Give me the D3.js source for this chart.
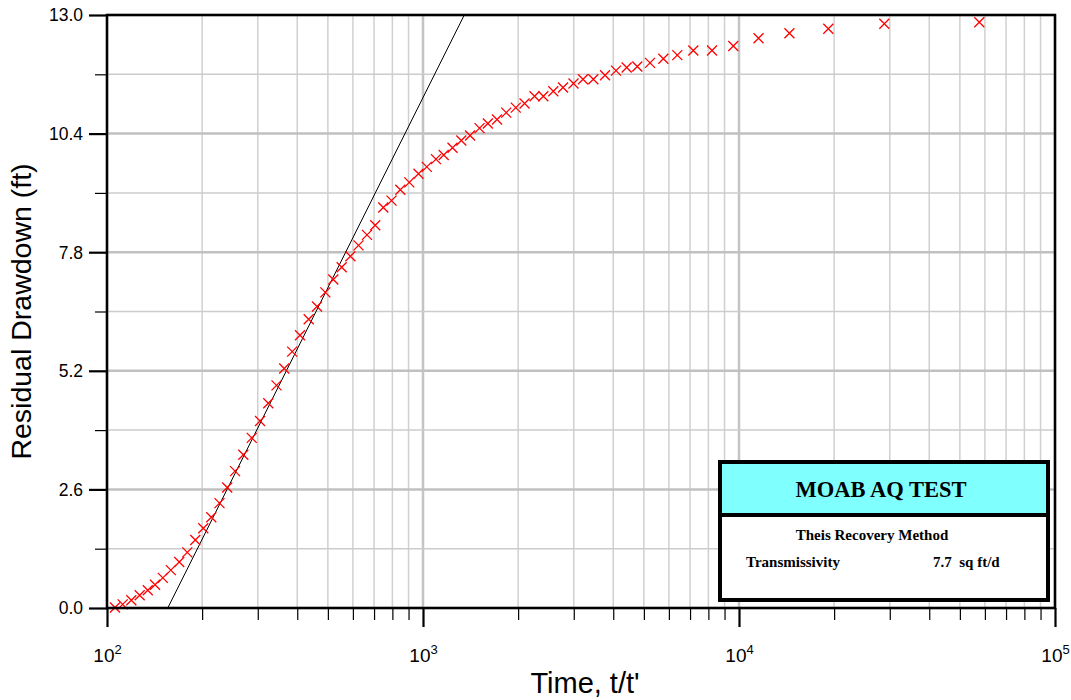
<!DOCTYPE html>
<html>
<head>
<meta charset="utf-8">
<script src="https://cdn.jsdelivr.net/npm/d3@7"></script>
<style>
  body { margin: 0; background: #fff; }
  svg { display: block; }
</style>
</head>
<body>
<script>
(function (d3) {
  'use strict'

  // recovery data, t/t' and residual drawdown (ft)
  const tRatio = [106.0, 112.1, 119.4, 126.9, 134.6, 141.9, 150.2, 159.2, 169.3, 179.5,
    190.3, 201.7, 213.8, 227.0, 240.1, 254.2, 270.0, 287.1, 305.0, 323.9,
    343.9, 363.8, 385.5, 408.1, 434.8, 461.9, 490.8, 520.2, 553.0, 589.2,
    625.1, 664.9, 706.0, 748.9, 795.0, 847.6, 905.0, 967.8, 1028, 1099,
    1163, 1240, 1322, 1409, 1510, 1604, 1715, 1834, 1966, 2096,
    2254, 2403, 2584, 2774, 2994, 3209, 3459, 3767, 4081, 4411,
    4766, 5229, 5761, 6379, 7168, 8214, 9593, 11530, 14440, 19170,
    28830, 57610]
  const drawdown = [0.01, 0.08, 0.17, 0.28, 0.39, 0.51, 0.66, 0.83, 1.01, 1.22,
    1.49, 1.75, 1.99, 2.30, 2.64, 3.00, 3.36, 3.73, 4.10, 4.49,
    4.88, 5.25, 5.62, 5.98, 6.33, 6.61, 6.92, 7.20, 7.47, 7.71,
    7.95, 8.18, 8.39, 8.78, 8.93, 9.17, 9.33, 9.52, 9.67, 9.84,
    9.93, 10.09, 10.25, 10.36, 10.52, 10.62, 10.71, 10.86, 10.97, 11.06,
    11.22, 11.22, 11.33, 11.41, 11.50, 11.59, 11.59, 11.68, 11.78, 11.85,
    11.87, 11.95, 12.04, 12.12, 12.22, 12.22, 12.32, 12.49, 12.60, 12.70,
    12.81, 12.84]

  // straight-line fit (semi-log)
  const fitT = [155.7, 1351]
  const fitS = [0, 13]

  const yMajor = [0, 2.6, 5.2, 7.8, 10.4, 13.0]
  const yMinor = [1.3, 3.9, 6.5, 9.1, 11.7]
  const xMajor = [1e2, 1e3, 1e4, 1e5]
  const xMinor = [2, 3, 4, 5, 6, 7, 8, 9].flatMap(m => [1e2, 1e3, 1e4].map(p => m * p))

  const W = 1071
  const H = 700
  const margin = { top: 15, right: 16, bottom: 92, left: 107 }
  const iw = W - margin.left - margin.right
  const ih = H - margin.top - margin.bottom

  const x = d3.scaleLog().domain([1e2, 1e5]).range([0, iw])
  const y = d3.scaleLinear().domain([0, 13]).range([ih, 0])

  const svg = d3.select('body').append('svg')
    .attr('width', W)
    .attr('height', H)

  const g = svg.append('g')
    .attr('transform', `translate(${margin.left},${margin.top})`)

  svg.append('defs').append('clipPath').attr('id', 'plot')
    .append('rect').attr('width', iw).attr('height', ih)

  // grid
  const grid = g.append('g')
  grid.selectAll('.vminor').data(xMinor).enter().append('line')
    .attr('x1', d => x(d)).attr('x2', d => x(d))
    .attr('y1', 0).attr('y2', ih)
    .attr('stroke', '#d0d0d0').attr('stroke-width', 1.5)
  grid.selectAll('.vmajor').data(xMajor).enter().append('line')
    .attr('x1', d => x(d)).attr('x2', d => x(d))
    .attr('y1', 0).attr('y2', ih)
    .attr('stroke', '#c4c4c4').attr('stroke-width', 2.5)
  grid.selectAll('.hminor').data(yMinor).enter().append('line')
    .attr('x1', 0).attr('x2', iw)
    .attr('y1', d => y(d)).attr('y2', d => y(d))
    .attr('stroke', '#cccccc').attr('stroke-width', 1.5)
  grid.selectAll('.hmajor').data(yMajor).enter().append('line')
    .attr('x1', 0).attr('x2', iw)
    .attr('y1', d => y(d)).attr('y2', d => y(d))
    .attr('stroke', '#c0c0c0').attr('stroke-width', 2.5)

  // axes
  const yMinorAxis = g.append('g')
    .call(d3.axisLeft(y).tickValues(yMinor).tickSize(12).tickFormat(''))
  const yAxis = g.append('g')
    .call(d3.axisLeft(y).tickValues(yMajor).tickSize(18).tickPadding(6).tickFormat(d3.format('.1f')))
  const xMinorAxis = g.append('g')
    .attr('transform', `translate(0,${ih})`)
    .call(d3.axisBottom(x).tickValues(xMinor).tickSize(12).tickFormat(''))
  const xAxis = g.append('g')
    .attr('transform', `translate(0,${ih})`)
    .call(d3.axisBottom(x).tickValues(xMajor).tickSize(19).tickFormat(''))

  ;[yMinorAxis, yAxis, xMinorAxis, xAxis].forEach(a => {
    a.select('.domain').remove()
    a.selectAll('.tick line').attr('stroke', '#000')
  })
  yMinorAxis.selectAll('.tick line').attr('stroke-width', 1.2)
  xMinorAxis.selectAll('.tick line').attr('stroke-width', 1.2)
  yAxis.selectAll('.tick text').attr('dy', '0.34em')
  yAxis.selectAll('.tick line').attr('stroke-width', 2.2)
  xAxis.selectAll('.tick line').attr('stroke-width', 2.2)

  yAxis.selectAll('.tick text')
    .attr('fill', '#000')
    .style('font-family', '"Liberation Sans", Arial, sans-serif')
    .style('font-size', '17.5px')

  xAxis.selectAll('.tick').append('text')
    .attr('y', 54)
    .attr('fill', '#000')
    .attr('text-anchor', 'middle')
    .style('font-family', '"Liberation Sans", Arial, sans-serif')
    .style('font-size', '19px')
    .each(function (d) {
      const t = d3.select(this)
      t.append('tspan').text('10')
      t.append('tspan').attr('dy', -8).style('font-size', '13px').text(Math.round(Math.log10(d)))
    })

  // fit line and data
  const plot = g.append('g').attr('clip-path', 'url(#plot)')

  plot.append('path')
    .datum(d3.zip(fitT, fitS))
    .attr('d', d3.line().x(d => x(d[0])).y(d => y(d[1])))
    .attr('fill', 'none')
    .attr('stroke', '#000')
    .attr('stroke-width', 1)

  g.append('g').selectAll('path')
    .data(d3.zip(tRatio, drawdown))
    .enter().append('path')
    .attr('transform', d => `translate(${x(d[0])},${y(d[1])})`)
    .attr('d', 'M-5,-5L5,5M-5,5L5,-5')
    .attr('stroke', '#ff0000')
    .attr('stroke-width', 1.3)
    .attr('fill', 'none')

  // frame
  g.append('rect')
    .attr('width', iw).attr('height', ih)
    .attr('fill', 'none')
    .attr('stroke', '#000')
    .attr('stroke-width', 2.5)

  // axis titles
  svg.append('text')
    .attr('x', 585)
    .attr('y', 693)
    .attr('text-anchor', 'middle')
    .style('font-family', '"Liberation Sans", Arial, sans-serif')
    .style('font-size', '29px')
    .text("Time, t/t'")

  svg.append('text')
    .attr('transform', `translate(31,${margin.top + ih / 2})rotate(-90)`)
    .attr('text-anchor', 'middle')
    .style('font-family', '"Liberation Sans", Arial, sans-serif')
    .style('font-size', '28.5px')
    .text('Residual Drawdown (ft)')

  // title box
  const box = svg.append('g')
  box.append('rect')
    .attr('x', 720).attr('y', 462).attr('width', 328).attr('height', 138)
    .attr('fill', '#fff')
  box.append('rect')
    .attr('x', 720).attr('y', 462).attr('width', 328).attr('height', 53)
    .attr('fill', '#80ffff')
  box.append('line')
    .attr('x1', 720).attr('x2', 1048).attr('y1', 515).attr('y2', 515)
    .attr('stroke', '#000').attr('stroke-width', 4)
  box.append('rect')
    .attr('x', 720).attr('y', 462).attr('width', 328).attr('height', 138)
    .attr('fill', 'none')
    .attr('stroke', '#000').attr('stroke-width', 4)

  const serif = '"Liberation Serif", "Times New Roman", serif'
  box.append('text')
    .attr('x', 881).attr('y', 497)
    .attr('text-anchor', 'middle')
    .style('font-family', serif).style('font-weight', 'bold').style('font-size', '22.5px')
    .text('MOAB AQ TEST')
  box.append('text')
    .attr('x', 872).attr('y', 540)
    .attr('text-anchor', 'middle')
    .style('font-family', serif).style('font-weight', 'bold').style('font-size', '15px')
    .text('Theis Recovery Method')
  box.append('text')
    .attr('x', 746).attr('y', 567)
    .style('font-family', serif).style('font-weight', 'bold').style('font-size', '15px')
    .text('Transmissivity')
  box.append('text')
    .attr('x', 933).attr('y', 567)
    .style('font-family', serif).style('font-weight', 'bold').style('font-size', '15px')
    .style('white-space', 'pre')
    .text('7.7  sq ft/d')

}(d3))
</script>
</body>
</html>
